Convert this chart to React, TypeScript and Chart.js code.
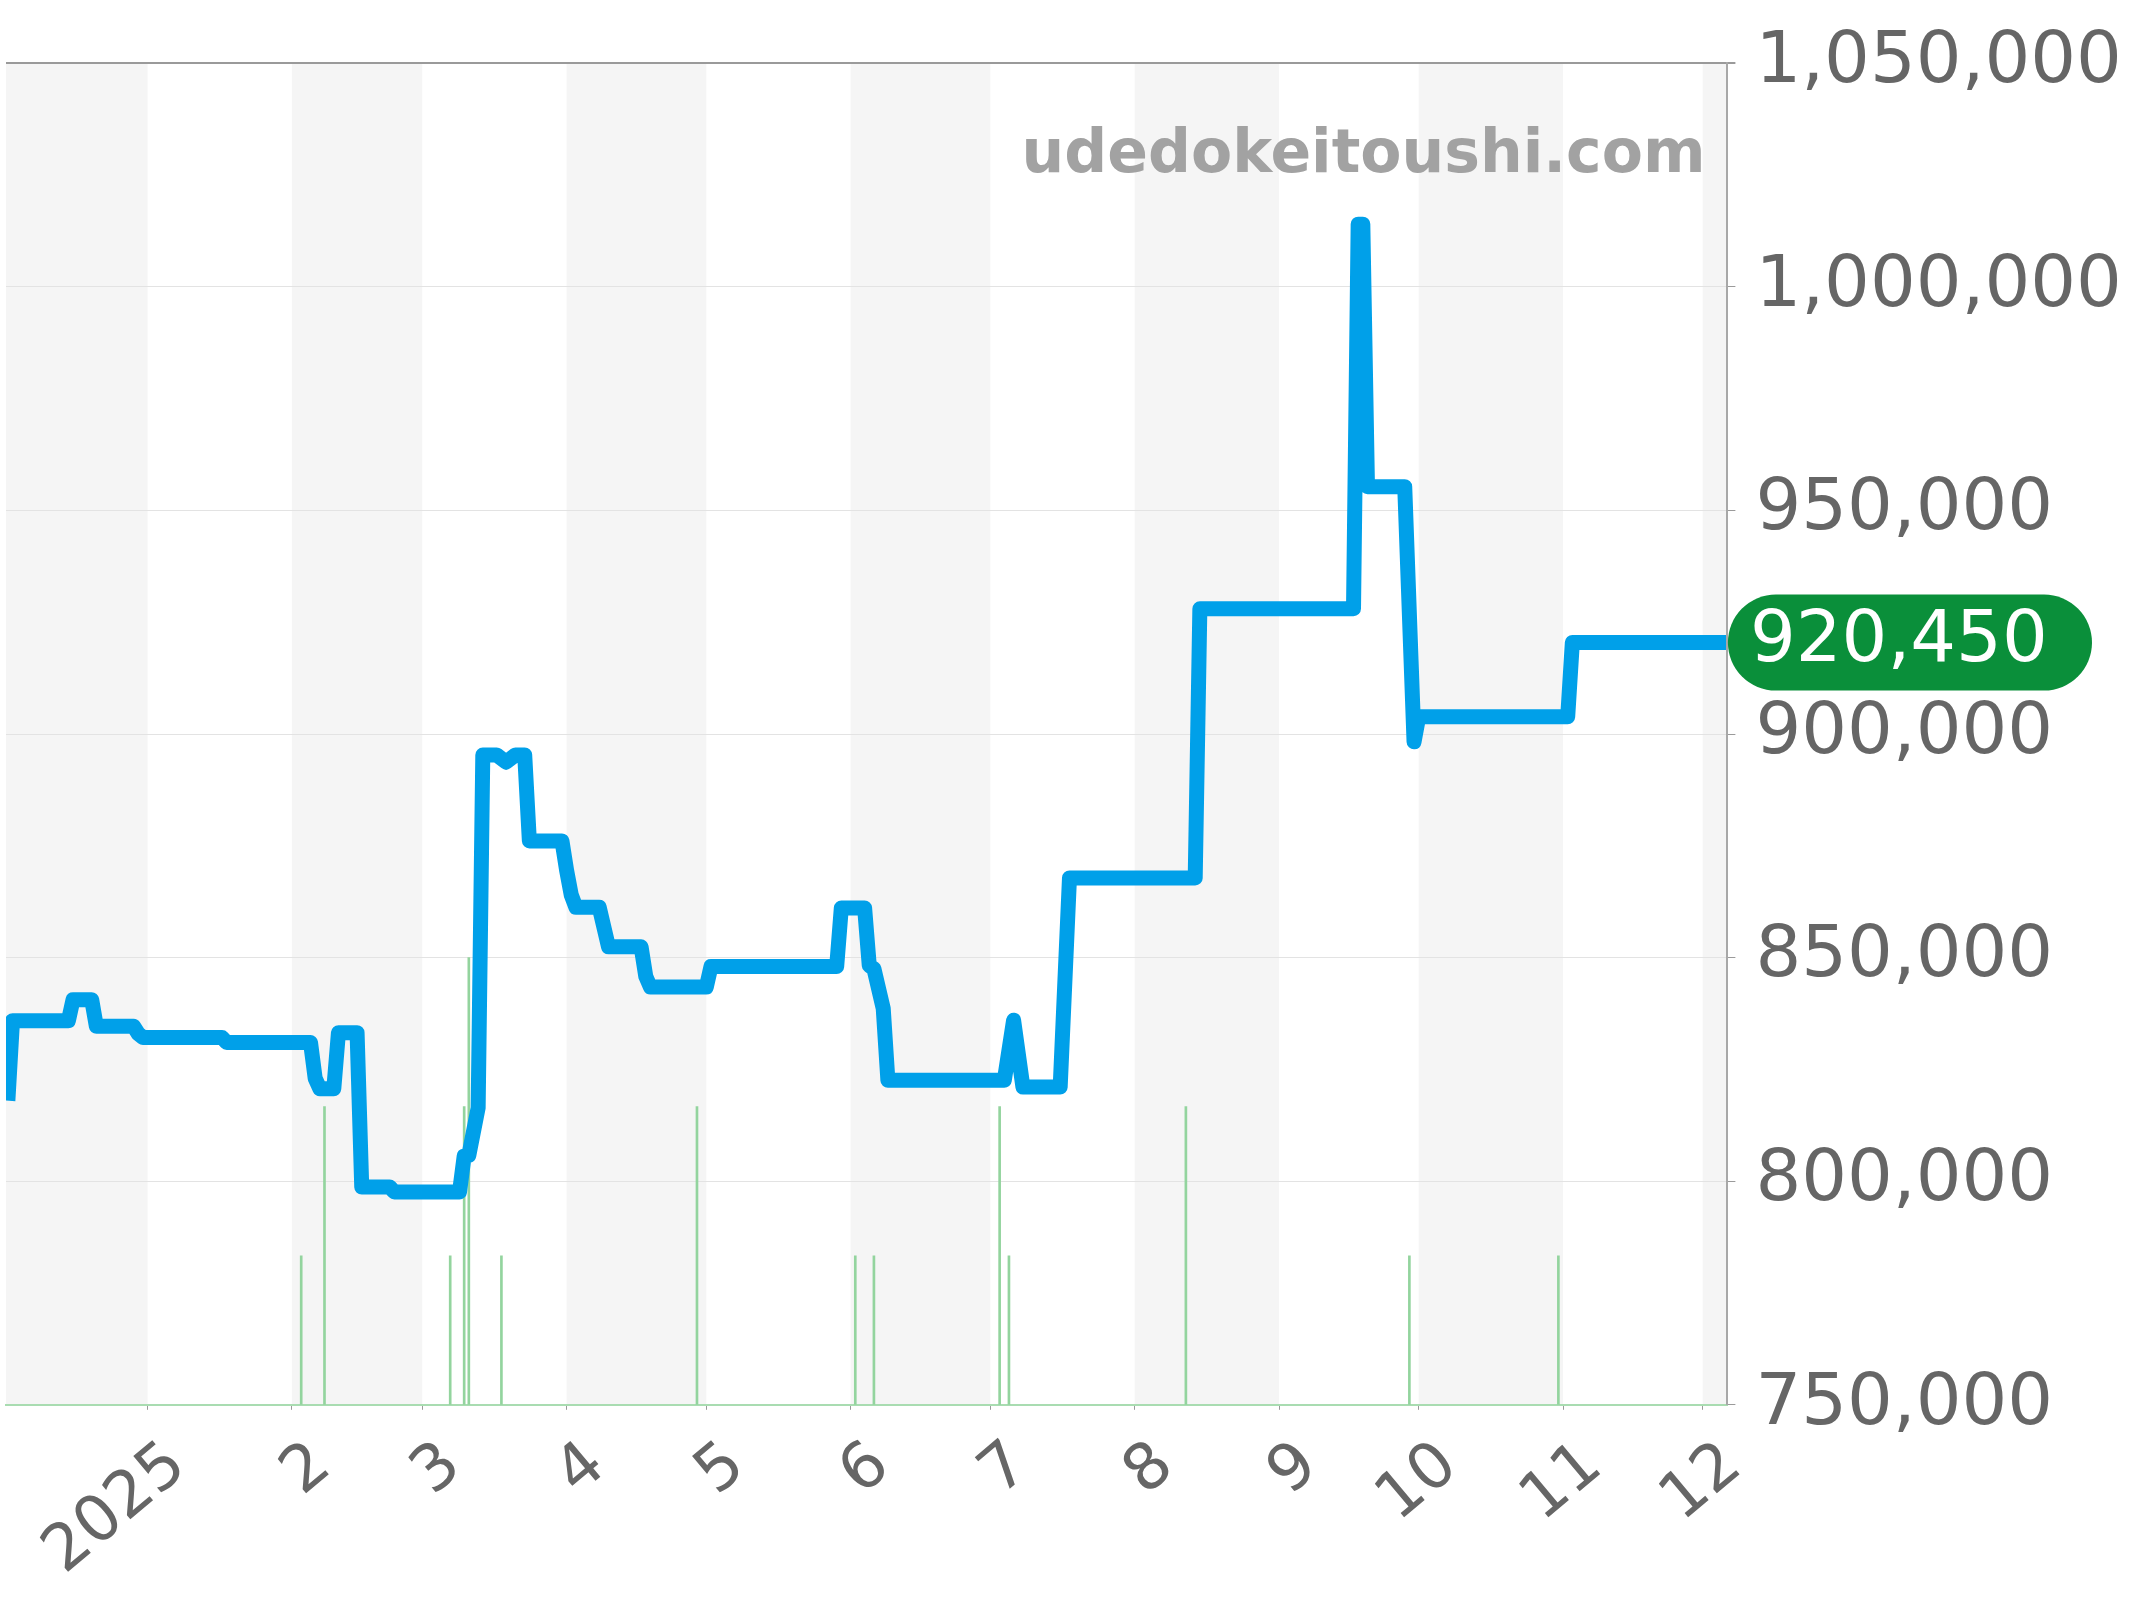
import React, { useEffect, useRef } from 'react';
import { Chart, registerables } from 'chart.js';

Chart.register(...registerables);

// ---------------- data ----------------
const priceDates = [
  '2024-12-02', '2024-12-03', '2024-12-15', '2024-12-16', '2024-12-20', '2024-12-21',
  '2024-12-29', '2024-12-30', '2024-12-31', '2025-01-17', '2025-01-18',
  '2025-02-05', '2025-02-06', '2025-02-07', '2025-02-10', '2025-02-11', '2025-02-15',
  '2025-02-16', '2025-02-22', '2025-02-23',
  '2025-03-09', '2025-03-10', '2025-03-11', '2025-03-13', '2025-03-14', '2025-03-17',
  '2025-03-19', '2025-03-21', '2025-03-23', '2025-03-24', '2025-03-31',
  '2025-04-01', '2025-04-02', '2025-04-03', '2025-04-08', '2025-04-10', '2025-04-17',
  '2025-04-18', '2025-04-19',
  '2025-05-01', '2025-05-02', '2025-05-29', '2025-05-30',
  '2025-06-04', '2025-06-05', '2025-06-06', '2025-06-08', '2025-06-09',
  '2025-07-04', '2025-07-06', '2025-07-08', '2025-07-16', '2025-07-18',
  '2025-08-14', '2025-08-15',
  '2025-09-17', '2025-09-18', '2025-09-19', '2025-09-20', '2025-09-28', '2025-09-30',
  '2025-10-01', '2025-11-02', '2025-11-03', '2025-12-06',
];
const priceValues = [
  818000, 835900, 835900, 840600, 840600, 834650,
  834650, 833000, 832150, 832150, 831000,
  831000, 823000, 820700, 820700, 833200, 833200,
  798700, 798700, 797600,
  797600, 805600, 805800, 816400, 895300, 895300,
  893700, 895300, 895300, 876100, 876100,
  869500, 864000, 861250, 861250, 852400, 852400,
  845800, 843400,
  843400, 848000, 848000, 861100,
  861100, 848200, 847500, 838600, 822550,
  822550, 836000, 821050, 821050, 867800,
  867800, 928000,
  928000, 1014000, 1014000, 955300, 955300, 898250,
  903850, 903850, 920450, 920450,
];

const volumeDates = [
  '2025-02-03', '2025-02-08', '2025-03-07', '2025-03-10', '2025-03-11', '2025-03-18',
  '2025-04-29', '2025-06-02', '2025-06-06', '2025-07-03', '2025-07-05', '2025-08-12',
  '2025-09-29', '2025-10-31',
];
const volumeValues = [1, 2, 1, 2, 3, 1, 2, 1, 1, 2, 1, 2, 1, 1];

const monthTickDates = [
  '2025-01-01', '2025-02-01', '2025-03-01', '2025-04-01', '2025-05-01', '2025-06-01',
  '2025-07-01', '2025-08-01', '2025-09-01', '2025-10-01', '2025-11-01', '2025-12-01',
];
const monthTickLabels = ['2025', '2', '3', '4', '5', '6', '7', '8', '9', '10', '11', '12'];

const stripeBounds = [
  '2024-12-01', '2025-01-01', '2025-02-01', '2025-03-01', '2025-04-01', '2025-05-01',
  '2025-06-01', '2025-07-01', '2025-08-01', '2025-09-01', '2025-10-01', '2025-11-01',
  '2025-12-01', '2026-01-01',
];

const yMin = 750000;
const yMax = 1050000;
const yStep = 50000;
const watermark = 'udedokeitoushi.com';

// ---------------- helpers ----------------
const DAY = 86400000;
const ORIGIN = Date.UTC(2025, 0, 1);
const toDay = (s: string) => {
  const [y, m, d] = s.split('-').map(Number);
  return (Date.UTC(y, m - 1, d) - ORIGIN) / DAY;
};
const fmt = (v: number) => Math.round(v).toLocaleString('en-US');

const FONT = '"DejaVu Sans", sans-serif';
const X_MIN = toDay(priceDates[0]) - 0.4;
const X_MAX = toDay(priceDates[priceDates.length - 1]) + 0.3;

const stripesPlugin = {
  id: 'stripes',
  beforeDraw(chart: any) {
    const { ctx, chartArea: a, scales } = chart;
    const x = scales.x;
    ctx.save();
    ctx.beginPath();
    ctx.rect(a.left, a.top, a.right - a.left, a.bottom - a.top);
    ctx.clip();
    ctx.fillStyle = '#f5f5f5';
    for (let i = 0; i + 1 < stripeBounds.length; i += 2) {
      const x0 = x.getPixelForValue(toDay(stripeBounds[i]));
      const x1 = x.getPixelForValue(toDay(stripeBounds[i + 1]));
      ctx.fillRect(x0, a.top, x1 - x0, a.bottom - a.top);
    }
    ctx.restore();
  },
};

const watermarkPlugin = {
  id: 'watermark',
  beforeDatasetsDraw(chart: any) {
    const { ctx, chartArea: a } = chart;
    ctx.save();
    ctx.font = `bold 60px ${FONT}`;
    ctx.fillStyle = '#a2a2a2';
    ctx.textAlign = 'right';
    ctx.textBaseline = 'alphabetic';
    ctx.fillText(watermark, a.right - 22, 171.5);
    ctx.restore();
  },
};

const lastLabelPlugin = {
  id: 'lastLabel',
  afterDraw(chart: any) {
    const { ctx, chartArea: a, scales } = chart;
    const last = priceValues[priceValues.length - 1];
    const yc = scales.y.getPixelForValue(last);
    const h = 96;
    const x0 = a.right + 0.5;
    const x1 = 2092;
    const r = h / 2;
    ctx.save();
    ctx.fillStyle = '#0a8f3a';
    ctx.beginPath();
    ctx.moveTo(x0 + r, yc - r);
    ctx.lineTo(x1 - r, yc - r);
    ctx.arc(x1 - r, yc, r, -Math.PI / 2, Math.PI / 2);
    ctx.lineTo(x0 + r, yc + r);
    ctx.arc(x0 + r, yc, r, Math.PI / 2, (3 * Math.PI) / 2);
    ctx.closePath();
    ctx.fill();
    ctx.fillStyle = '#ffffff';
    ctx.font = `72px ${FONT}`;
    ctx.textAlign = 'left';
    ctx.textBaseline = 'middle';
    ctx.fillText(fmt(last), 1750, yc);
    ctx.restore();
  },
};

export default function App() {
  const ref = useRef<HTMLCanvasElement | null>(null);

  useEffect(() => {
    if (!ref.current) return;
    const priceData = priceDates.map((d, i) => ({ x: toDay(d), y: priceValues[i] }));
    const volData = volumeDates.map((d, i) => ({ x: toDay(d), y: volumeValues[i] }));
    const tickVals = monthTickDates.map(toDay);

    const chart = new Chart(ref.current, {
      type: 'line',
      data: {
        datasets: [
          {
            type: 'line',
            label: 'price',
            data: priceData,
            yAxisID: 'y',
            borderColor: '#00a0e9',
            borderWidth: 15,
            pointRadius: 0,
            pointHoverRadius: 0,
            tension: 0,
            borderJoinStyle: 'round',
            borderCapStyle: 'butt',
            fill: false,
            order: 0,
          } as any,
          {
            type: 'bar',
            label: 'volume',
            data: volData,
            yAxisID: 'y2',
            backgroundColor: '#93d49e',
            barThickness: 2,
            order: 1,
          } as any,
        ],
      },
      options: {
        responsive: false,
        devicePixelRatio: 1,
        animation: false,
        events: [],
        layout: { padding: { left: 6, top: 61.75, right: 0, bottom: 0 } },
        plugins: {
          legend: { display: false },
          tooltip: { enabled: false },
          title: { display: false },
        },
        scales: {
          x: {
            type: 'linear',
            position: 'bottom',
            offset: false,
            min: X_MIN,
            max: X_MAX,
            afterBuildTicks: (scale: any) => {
              scale.ticks = tickVals.map((v) => ({ value: v }));
            },
            afterFit: (scale: any) => {
              scale.height = 1600 - 1404.8;
            },
            grid: {
              offset: false,
              drawOnChartArea: false,
              drawTicks: true,
              tickLength: 5,
              tickColor: '#9a9a9a',
              color: '#9a9a9a',
            },
            border: { display: true, color: '#a9dcb1', width: 2, dash: [2, 2] },
            ticks: {
              autoSkip: false,
              minRotation: 40,
              maxRotation: 40,
              padding: 18,
              labelOffset: 31,
              color: '#666',
              font: { family: FONT, size: 64 },
              callback: (_v: any, i: number) => monthTickLabels[i],
            },
          },
          y: {
            type: 'linear',
            position: 'right',
            min: yMin,
            max: yMax,
            afterFit: (scale: any) => {
              scale.width = 2144 - 1727.4;
            },
            grid: {
              color: (c: any) => (c.tick && c.tick.value === yMax ? '#9a9a9a' : '#e3e3e3'),
              lineWidth: (c: any) => (c.tick && c.tick.value === yMax ? 2 : 1),
              tickColor: '#9a9a9a',
              tickLength: 8,
            },
            border: { display: true, color: '#a8a8a8', width: 2 },
            ticks: {
              stepSize: yStep,
              padding: 20,
              color: '#666',
              font: { family: FONT, size: 72 },
              callback: (v: any) => fmt(Number(v)),
            },
          },
          y2: {
            type: 'linear',
            display: false,
            min: 0,
            max: 9,
          },
        },
      } as any,
      plugins: [stripesPlugin, watermarkPlugin, lastLabelPlugin],
    });
    return () => chart.destroy();
  }, []);

  return (
    <div style={{ position: 'absolute', left: 0, top: 0, width: 2144, height: 1600, background: '#fff' }}>
      <canvas ref={ref} width={2144} height={1600} style={{ display: 'block', width: 2144, height: 1600 }} />
    </div>
  );
}
